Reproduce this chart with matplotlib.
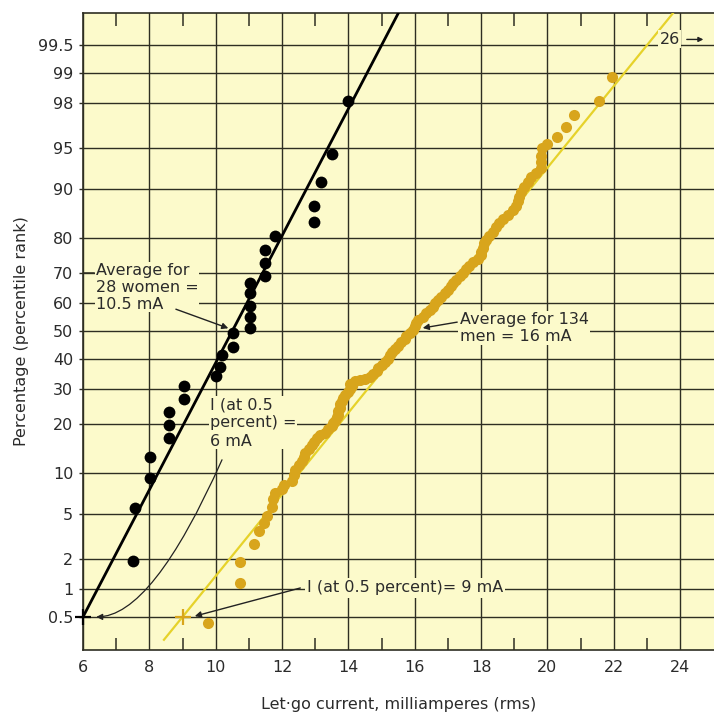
import numpy as np
import matplotlib
matplotlib.use("Agg")
import matplotlib.pyplot as plt
from statistics import NormalDist

# ---------------- data ----------------
women_x = [14.0, 13.5, 13.17, 12.96, 12.96, 11.8, 11.48, 11.48, 11.48, 11.03, 11.03, 11.03,
           11.03, 11.03, 10.52, 10.52, 10.18, 10.12, 10.0, 9.05, 9.05, 8.58, 8.58, 8.58,
           8.03, 8.03, 7.57, 7.5]
women_p = [98.1, 94.5, 91.0, 87.0, 83.7, 80.4, 76.7, 73.0, 69.0, 66.7, 63.4, 59.0,
           55.0, 51.0, 49.3, 44.4, 41.5, 37.4, 34.3, 30.9, 27.0, 23.3, 19.8, 16.8,
           12.8, 9.2, 5.5, 1.9]

men_x = [9.77, 10.73, 10.73, 11.15, 11.3, 11.45, 11.55, 11.7, 11.73, 11.8, 12.0, 12.05, 12.3,
         12.35, 12.4, 12.5, 12.6, 12.65, 12.7, 12.8, 12.9, 12.95, 13.05, 13.15, 13.3, 13.4,
         13.5, 13.55, 13.6, 13.65, 13.7, 13.7, 13.75, 13.75, 13.8, 13.85, 13.9, 14.0, 14.05,
         14.1, 14.05, 14.2, 14.35, 14.5, 14.65, 14.75, 14.85, 14.9, 15.0, 15.1, 15.2, 15.25,
         15.3, 15.4, 15.5, 15.6, 15.7, 15.75, 15.85, 15.95, 16.0, 16.05, 16.1, 16.25, 16.35,
         16.45, 16.55, 16.6, 16.7, 16.8, 16.9, 17.0, 17.1, 17.15, 17.25, 17.35, 17.45, 17.55,
         17.65, 17.75, 17.9, 18.0, 18.0, 18.05, 18.1, 18.15, 18.25, 18.35, 18.45, 18.55, 18.65,
         18.8, 18.95, 19.05, 19.1, 19.15, 19.2, 19.3, 19.4, 19.5, 19.65, 19.8, 19.8, 19.8,
         19.85, 20.0, 20.3, 20.55, 20.8, 21.55, 21.95]
men_p = [0.43, 1.16, 1.88, 2.75, 3.6, 4.2, 4.8, 5.6, 6.5, 7.2, 7.7, 8.3, 8.9,
         9.8, 10.5, 11.3, 12.1, 12.9, 13.6, 14.4, 15.2, 15.9, 16.7, 17.4, 18.0, 18.8,
         19.5, 20.3, 21.0, 21.8, 22.6, 23.5, 24.4, 25.5, 26.5, 27.4, 28.3, 29.1, 30.0,
         30.9, 31.8, 32.6, 33.0, 33.4, 34.0, 35.0, 36.0, 37.0, 38.0, 39.0, 40.0, 41.5,
         42.5, 43.5, 44.8, 45.9, 47.0, 48.2, 49.3, 50.5, 51.7, 52.8, 54.0, 55.2, 56.3,
         57.5, 58.7, 59.8, 61.0, 62.2, 63.3, 64.5, 65.6, 66.7, 67.8, 68.9, 70.0, 71.1,
         72.2, 73.2, 74.2, 75.2, 76.3, 77.4, 78.5, 79.5, 80.5, 81.5, 82.5, 83.5, 84.4,
         85.3, 86.2, 87.0, 87.9, 88.7, 89.5, 90.3, 91.0, 91.7, 92.3, 92.9, 93.6, 94.3,
         95.0, 95.4, 96.0, 96.7, 97.4, 98.1, 98.9]

# fitted lines, given by two anchor points (mA, percent)
women_fit_x = [6.0, 10.5]
women_fit_p = [0.5, 50.0]
men_fit_x = [9.0, 16.0]
men_fit_p = [0.5, 50.0]

y_ticks = [0.5, 1, 2, 5, 10, 20, 30, 40, 50, 60, 70, 80, 90, 95, 98, 99, 99.5]
y_ticklabels = ["0.5", "1", "2", "5", "10", "20", "30", "40", "50", "60", "70", "80",
                "90", "95", "98", "99", "99.5"]
x_ticks = [6, 8, 10, 12, 14, 16, 18, 20, 22, 24]

# ---------------- style ----------------
BG = "#fcfacb"
GRID = "#2e2e22"
TXT = "#2b2b2b"
MEN_PT = "#d8a51c"
MEN_LN = "#e6d22a"

ND = NormalDist()
_inv_cdf = np.vectorize(ND.inv_cdf, otypes=[float])
_cdf = np.vectorize(ND.cdf, otypes=[float])


def fwd(p):
    q = np.clip(np.asarray(p, dtype=float) / 100.0, 1e-9, 1 - 1e-9)
    return _inv_cdf(q)


def inv(z):
    return _cdf(np.asarray(z, dtype=float)) * 100.0


plt.rcParams['font.family'] = ['DejaVu Sans']
fig = plt.figure(figsize=(7.14, 7.14), dpi=100)
ax = fig.add_axes([83 / 714, 64 / 714, 631 / 714, 637 / 714])
ax.set_facecolor(BG)
ax.set_yscale('function', functions=(fwd, inv))
ax.set_xlim(6, 25.02)
ax.set_ylim(0.2026, 99.792)

ax.set_xticks(x_ticks)
ax.set_xticks(np.arange(7, 25, 2), minor=True)
ax.set_yticks(y_ticks)
ax.set_yticklabels(y_ticklabels)
ax.yaxis.set_minor_locator(matplotlib.ticker.NullLocator())
ax.tick_params(axis='x', which='major', length=0, pad=7, labelsize=11.5, labelcolor=TXT)
ax.tick_params(axis='x', which='minor', direction='in', length=9, width=1.1, color=GRID,
               top=True, bottom=True)
ax.tick_params(axis='y', which='major', length=3, width=1, color=GRID, pad=4,
               labelsize=11.5, labelcolor=TXT)
ax.grid(True, which='major', color=GRID, lw=1.0)
ax.set_axisbelow(True)
for s in ['left', 'top', 'bottom']:
    ax.spines[s].set_color(GRID)
    ax.spines[s].set_linewidth(1.2)
ax.spines['right'].set_visible(False)

ax.set_xlabel("Let\u00b7go current, milliamperes (rms)", fontsize=11.5, color=TXT, labelpad=16)
ax.set_ylabel("Percentage (percentile rank)", fontsize=11.5, color=TXT, labelpad=6)

# fitted lines (linear in probit space)
def fit_line(xa, pa, x0, x1):
    za = fwd(pa)
    slope = (za[1] - za[0]) / (xa[1] - xa[0])
    xs = np.linspace(x0, x1, 300)
    return xs, inv(za[0] + slope * (xs - xa[0]))

xs, ps = fit_line(women_fit_x, women_fit_p, 6.0, 16.0)
ax.plot(xs, ps, color="black", lw=2.0, zorder=3)
xs, ps = fit_line(men_fit_x, men_fit_p, 8.44, 24.5)
ax.plot(xs, ps, color=MEN_LN, lw=1.6, zorder=3)

ax.plot(men_x, men_p, 'o', color=MEN_PT, ms=8, mec='none', zorder=4)
ax.plot(women_x, women_p, 'o', color='black', ms=8.5, mec='none', zorder=5)

ax.plot([women_fit_x[0]], [women_fit_p[0]], '+', color='black', ms=12, mew=1.6,
        clip_on=False, zorder=6)
ax.plot([men_fit_x[0]], [men_fit_p[0]], '+', color=MEN_PT, ms=12, mew=1.6, zorder=6)

# ---------------- annotations ----------------
arw = dict(arrowstyle='-|>', color='#222222', lw=1.0, mutation_scale=9, shrinkA=0, shrinkB=0)

ax.plot([6.0, 6.33], [70, 70], color=GRID, lw=1.1, zorder=3)
ax.text(6.39, 73.0, "Average for\n28 women =\n10.5 mA", ha='left', va='top', fontsize=11.5,
        color=TXT, linespacing=1.15, zorder=6,
        bbox=dict(fc=BG, ec='none', pad=0.5))
ax.annotate("", xy=(10.38, 51.0), xytext=(8.8, 57.8), arrowprops=arw, zorder=6)

ax.text(9.83, 27.6, "I (at 0.5\npercent) =\n6 mA", ha='left', va='top', fontsize=11.5,
        color=TXT, linespacing=1.28, zorder=6,
        bbox=dict(fc=BG, ec='none', pad=0.5))
ax.annotate("", xy=(6.4, 0.5), xytext=(10.19, 12.3),
            arrowprops=dict(arw, lw=0.9, connectionstyle='angle3,angleA=66,angleB=0'),
            zorder=6)

ax.text(12.75, 1.03, "I (at 0.5 percent)= 9 mA", ha='left', va='center', fontsize=11.5,
        color=TXT, zorder=6, bbox=dict(fc=BG, ec='none', pad=1.5))
ax.annotate("", xy=(9.37, 0.51), xytext=(12.55, 1.03), arrowprops=arw, zorder=6)

ax.text(17.36, 56.8, "Average for 134\nmen = 16 mA", ha='left', va='top', fontsize=11.5,
        color=TXT, linespacing=1.15, zorder=6, bbox=dict(fc=BG, ec='none', pad=1.0))
ax.annotate("", xy=(16.24, 51.1), xytext=(17.28, 53.2), arrowprops=arw, zorder=6)

ax.text(23.38, 99.57, "26", ha='left', va='center', fontsize=11.5, color=TXT, zorder=6,
        bbox=dict(fc=BG, ec='none', pad=1.0))
ax.annotate("", xy=(24.7, 99.57), xytext=(24.2, 99.57),
            arrowprops=dict(arw, mutation_scale=7), zorder=6)

fig.savefig("out.png", dpi=100, facecolor='white')
